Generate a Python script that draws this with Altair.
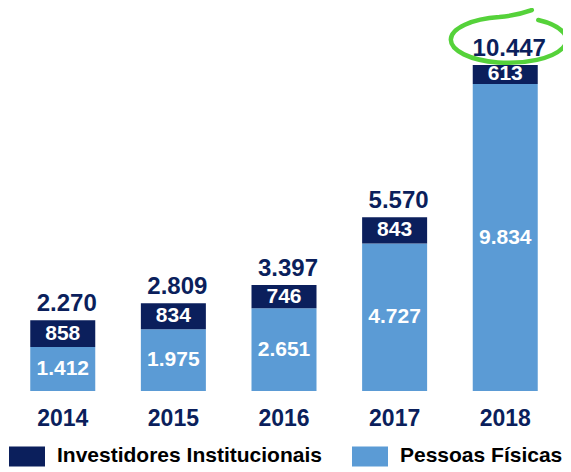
import altair as alt
import pandas as pd

years = ["2014", "2015", "2016", "2017", "2018"]
pessoas = [1412, 1975, 2651, 4727, 9834]
investidores = [858, 834, 746, 843, 613]
totais = [2270, 2809, 3397, 5570, 10447]
pessoas_lbl = ["1.412", "1.975", "2.651", "4.727", "9.834"]
invest_lbl = ["858", "834", "746", "843", "613"]
totais_lbl = ["2.270", "2.809", "3.397", "5.570", "10.447"]

S_INV = "Investidores Institucionais"
S_PES = "Pessoas Físicas"
NAVY = "#0b1f5c"
LIGHT = "#5b9bd5"
FONT = "Liberation Sans"

rows = []
for i, y in enumerate(years):
    p, v = pessoas[i], investidores[i]
    rows.append(dict(year=y, series=S_PES, y0=0, y1=p, mid=p / 2, lbl=pessoas_lbl[i]))
    rows.append(dict(year=y, series=S_INV, y0=p, y1=p + v, mid=p + v / 2, lbl=invest_lbl[i]))
seg = pd.DataFrame(rows)
tot = pd.DataFrame(dict(year=years, total=totais, lbl=totais_lbl))

xenc = alt.X("year:N", sort=years, title=None,
             scale=alt.Scale(paddingInner=0.41, paddingOuter=0.2),
             axis=alt.Axis(domain=False, ticks=False, labelAngle=0, labelFontSize=23,
                           labelFont=FONT, labelFontWeight="bold", labelColor=NAVY,
                           labelPadding=16))
yscale = alt.Scale(domain=[0, 12270], nice=False, zero=True)

bars = alt.Chart(seg).mark_bar(size=65).encode(
    x=xenc,
    y=alt.Y("y0:Q", scale=yscale, axis=None),
    y2="y1:Q",
    color=alt.Color("series:N",
                    scale=alt.Scale(domain=[S_INV, S_PES], range=[NAVY, LIGHT]),
                    legend=alt.Legend(title=None, orient="none", direction="horizontal",
                                      legendX=1, legendY=430, padding=0,
                                      symbolType="M-1,-0.56H1V0.56H-1Z", symbolSize=1296,
                                      symbolStrokeWidth=0, symbolOpacity=1,
                                      labelFont=FONT, labelFontSize=21, labelFontWeight="bold",
                                      labelColor="#000000", labelOffset=12, labelLimit=400,
                                      columnPadding=30)),
)

seglabels = alt.Chart(seg).mark_text(color="white", font=FONT, fontSize=21,
                                     fontWeight="bold", baseline="middle").encode(
    x=alt.X("year:N", sort=years),
    y=alt.Y("mid:Q", scale=yscale),
    text="lbl:N",
)

totlabels = alt.Chart(tot).mark_text(color=NAVY, font=FONT, fontSize=24, fontWeight="bold",
                                     baseline="bottom", dy=-4, dx=4).encode(
    x=alt.X("year:N", sort=years),
    y=alt.Y("total:Q", scale=yscale),
    text="lbl:N",
)

ellipse_path = ("M0.56,-0.76 A0.98,0.39 0 1 1 -0.10,-0.81 "
                "Q0.2,-0.84 0.45,-0.93")
ellipse = alt.Chart(tot[tot.year == "2018"]).mark_point(
    shape=ellipse_path, size=13924, filled=False, stroke="#55d23a",
    strokeWidth=4.5, opacity=1, strokeCap="round").encode(
    x=alt.X("year:N", sort=years),
    y=alt.Y("total:Q", scale=yscale),
)

chart = alt.layer(bars, seglabels, totlabels, ellipse).properties(
    width=552, height=383,
    autosize=alt.AutoSizeParams(type="none"),
    padding={"left": 0, "top": 0, "right": 3, "bottom": 80},
).configure_view(stroke=None)

chart.save("out.html", embed_options={"renderer": "svg", "actions": False})
